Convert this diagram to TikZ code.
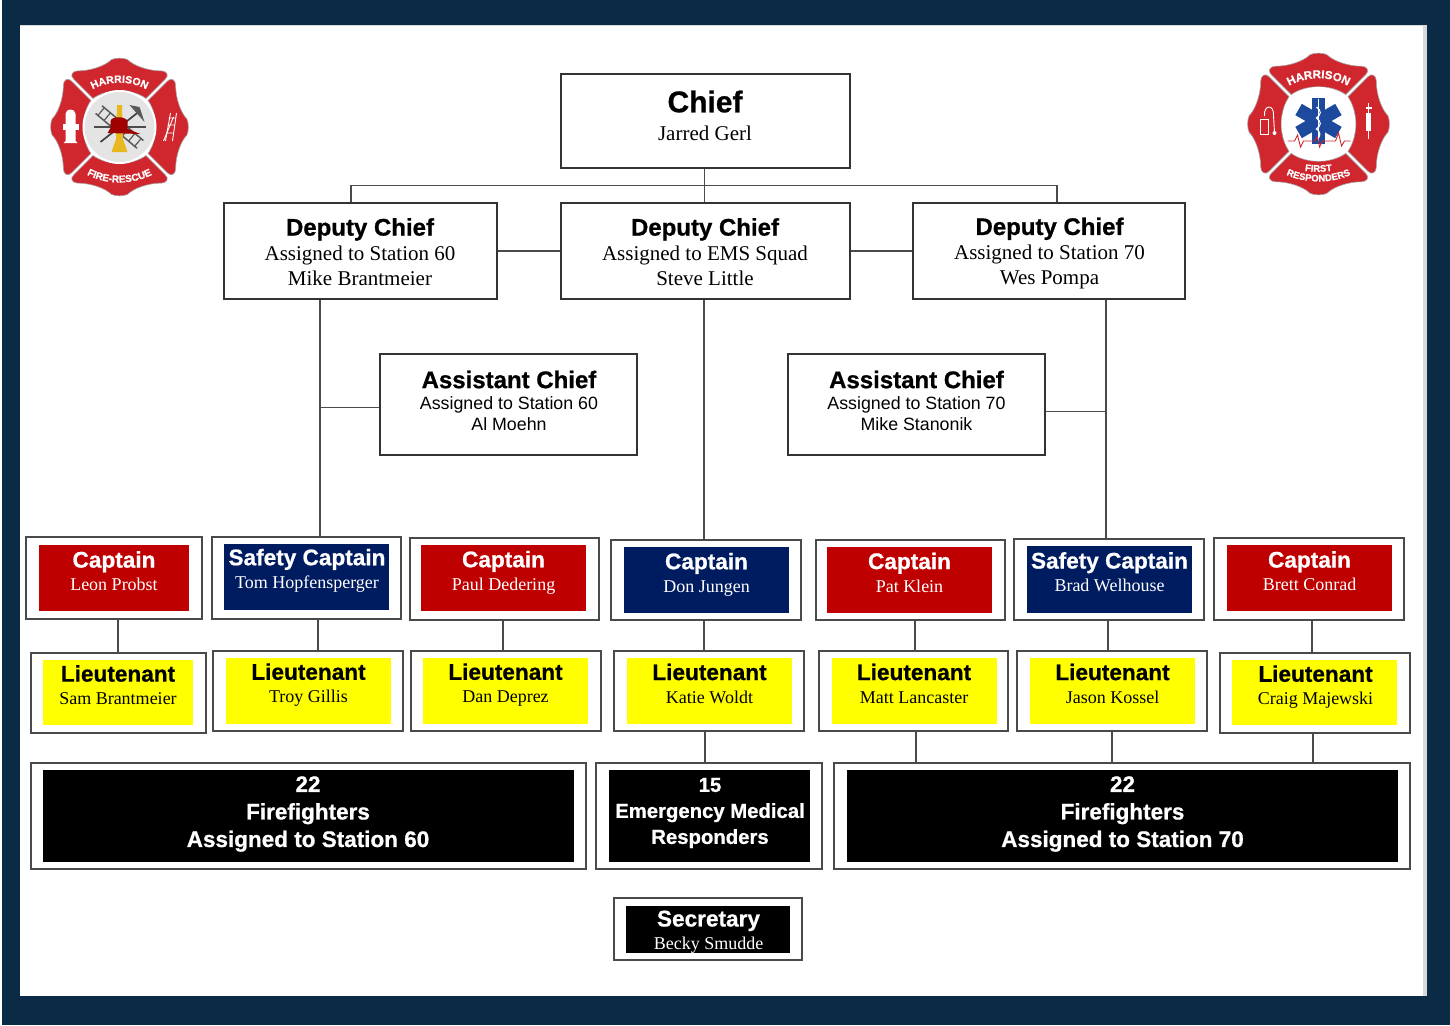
\documentclass[tikz,border=0pt]{standalone}
\usepackage{fontspec}
\setmainfont{Liberation Serif}
\newfontfamily\arialf[BoldFeatures={FakeBold=0.8}]{Liberation Sans}
\usetikzlibrary{decorations.text,calc}
\definecolor{frame}{HTML}{0B2A45}
\definecolor{capred}{HTML}{BE0000}
\definecolor{capblue}{HTML}{001C60}
\definecolor{ltyel}{HTML}{FFFF00}
\definecolor{logored}{HTML}{D0262E}
\definecolor{logogray}{HTML}{E4E4E4}
\definecolor{staryblue}{HTML}{1D4A9C}
\definecolor{brass}{HTML}{E8B820}
\definecolor{lineg}{HTML}{4A4A4A}
\newcommand\ttlA{\arialf\bfseries\fontsize{30}{32}\selectfont}
\newcommand\ttlB{\arialf\bfseries\fontsize{24}{25}\selectfont}
\newcommand\ttlC{\arialf\bfseries\fontsize{22.6}{24}\selectfont}
\newcommand\ttlD{\arialf\bfseries\fontsize{22.5}{27.5}\selectfont}
\newcommand\ttlE{\arialf\bfseries\fontsize{20.3}{26}\selectfont}
\newcommand\nmA{\rmfamily\mdseries\fontsize{21}{25}\selectfont}
\newcommand\nmB{\arialf\mdseries\fontsize{17.8}{20}\selectfont}
\newcommand\nmC{\rmfamily\mdseries\fontsize{18}{23}\selectfont}
\tikzset{
  x=1pt,y=-1pt,
  boxline/.style={draw=lineg,line width=1.4pt,fill=white},
  chiefline/.style={draw=black!80,line width=1.2pt,fill=white},
  redfill/.style={fill=capred},
  bluefill/.style={fill=capblue},
  yelfill/.style={fill=ltyel},
  blackfill/.style={fill=black},
  lspace/.style={font=\fontsize{10}{#1}\selectfont},
  wtxt/.style={text=white,align=center,inner sep=0pt,lspace=#1},
  ktxt/.style={text=black,align=center,inner sep=0pt,lspace=#1},
  link/.style={draw=lineg,line width=1.5pt},
  lobe/.style={fill=logored,draw=black!35,line width=.6pt},
}
% \bx[style]{name}{x1}{y1}{x2}{y2}
\newcommand\bx[6][]{%
  \pgfmathsetmacro\bxw{#5-#3}\pgfmathsetmacro\bxh{#6-#4}%
  \pgfmathsetmacro\bxx{(#3+#5)/2}\pgfmathsetmacro\bxy{(#4+#6)/2}%
  \node[inner sep=0pt,minimum width=\bxw pt,minimum height=\bxh pt,#1] (#2) at (\bxx,\bxy) {};%
}
\newcommand\malt{%
  \foreach \r in {0,90,180,270}{
    \begin{scope}[rotate=\r]
      \path[lobe] (-26,-28) -- (-45,-47) .. controls (-49,-51) and (-46,-55) .. (-41,-55)
        .. controls (-28,-55) and (-14,-60) .. (-8,-66) .. controls (-4,-68) and (4,-68) .. (8,-66)
        .. controls (14,-60) and (28,-55) .. (41,-55) .. controls (46,-55) and (49,-51) .. (45,-47)
        -- (26,-28) .. controls (12,-38) and (-12,-38) .. (-26,-28) -- cycle;
    \end{scope}
  }
}
\begin{document}
\begin{tikzpicture}
\useasboundingbox (0,0) rectangle (1450,1025);
\fill[frame] (0,0) rectangle (1450,1025);
\fill[white] (0,0) rectangle (2,1025);
\fill[white] (20,25) rectangle (1423,996);
\fill[black!15] (1423,25) rectangle (1427,996);
\fill[black!15] (20,25) rectangle (1427,26.5);

% ---------- left logo
\begin{scope}[shift={(119.5,127)}]
  \begin{scope}[scale=1.02]\malt\end{scope}
  \fill[white] (0,0) circle (37);
  \fill[logogray] (0,0) circle (35);
  % ladder
  \begin{scope}[rotate=50]
    \draw[black!65,line width=1.5pt] (-5,-27) -- (-5,27) (5,-27) -- (5,27);
    \foreach \q in {-24,-16,...,24}{\draw[black!65,line width=1.2pt] (-5,\q) -- (5,\q);}
  \end{scope}
  % tools
  \draw[black!70,line width=1.3pt] (-26,0) -- (26,0);
  \draw[black!75,line width=1.7pt] (-19,15) -- (19,-15);
  \fill[black!65] (10,-22) -- (20,-20) -- (25,-5) -- (17,-14) -- cycle;
  % nozzle
  \fill[brass] (-2.5,-22) -- (2.5,-22) -- (3.5,12) -- (8,25) -- (-8,25) -- (-3.5,12) -- cycle;
  % helmet
  \fill[capred!85!black] (-9,-6) .. controls (-8,-11) and (6,-11) .. (8,-6) -- (8,2) -- (21,7) -- (-12,6) -- (-9,1) -- cycle;
  % hydrant
  \begin{scope}[shift={(-49,0)}]
    \fill[white] (-5,-13) .. controls (-5,-19) and (5,-19) .. (5,-13) -- (5,14) -- (7,16) -- (-7,16) -- (-5,14) -- cycle;
    \fill[white] (-8,-3) rectangle (8,3);
  \end{scope}
  % side ladder
  \begin{scope}[shift={(50,0)}]
    \draw[white,line width=.9pt] (-4,14) -- (1,-14) (3,14) -- (7,-14);
    \draw[white,line width=.9pt] (-6,14) -- (4,-10) (-3,6) -- (4,6) (-2,-2) -- (5,-2) (-1,-9) -- (6,-9);
  \end{scope}
  \path[decorate,decoration={text along path,text align=center,
    text={|\arialf\bfseries\fontsize{10.5}{11}\selectfont\color{white}|HARRISON}}]
    (-46,-21) .. controls (-24,-52) and (24,-52) .. (46,-21);
  \path[decorate,decoration={text along path,text align=center,
    text={|\arialf\bfseries\fontsize{10}{10}\selectfont\color{white}|FIRE-RESCUE}}]
    (-48,36) .. controls (-24,62) and (24,62) .. (48,36);
\end{scope}

% ---------- right logo
\begin{scope}[shift={(1318.5,124)}]
  \begin{scope}[scale=1.05]\malt\end{scope}
  \fill[white] (0,0) circle (37);
  \begin{scope}[shift={(0,-3)}]
    \foreach \r in {0,60,120}{
      \fill[staryblue,rotate=\r] (-6.5,-23) rectangle (6.5,23);
    }
    \draw[white,line width=1.6pt] (0,-22) -- (0,22);
    \draw[white,line width=1.1pt] (-2,-14) .. controls (3,-10) and (3,-7) .. (-2,-3) .. controls (3,1) and (3,4) .. (-2,8) .. controls (2,11) and (2,14) .. (0,17);
  \end{scope}
  \draw[logored,line width=.9pt] (-31,17) -- (-24,17) -- (-21,11) -- (-18,23) -- (-15,17) -- (-4,17) -- (-1,13) -- (1,23) -- (4,17) -- (17,17) -- (20,9) -- (23,22) -- (26,17) -- (32,17);
  % stethoscope
  \begin{scope}[shift={(-50,-2)}]
    \draw[white,line width=.9pt] (-4,-6) .. controls (-5,-18) and (6,-18) .. (5,-6) -- (6,10);
    \draw[white,line width=.9pt] (-8,-3) rectangle (0,12);
    \fill[white] (6,11) circle (2);
  \end{scope}
  % syringe
  \begin{scope}[shift={(50,-2)}]
    \draw[white,line width=.6pt] (0,-19) -- (0,17);
    \fill[white] (-2.5,-9) rectangle (2.5,9);
    \fill[white] (-3,-15) rectangle (3,-13);
  \end{scope}
  \path[decorate,decoration={text along path,text align=center,
    text={|\arialf\bfseries\fontsize{11.5}{12}\selectfont\color{white}|HARRISON}}]
    (-49,-21) .. controls (-24,-54) and (24,-54) .. (49,-21);
  \path[decorate,decoration={text along path,text align=center,
    text={|\arialf\bfseries\fontsize{9.5}{10}\selectfont\color{white}|FIRST}}]
    (-25,44) .. controls (-12,49) and (12,49) .. (25,44);
  \path[decorate,decoration={text along path,text align=center,
    text={|\arialf\bfseries\fontsize{9.5}{10}\selectfont\color{white}|RESPONDERS}}]
    (-47,41) .. controls (-24,63) and (24,63) .. (47,41);
\end{scope}

% ---------- top boxes
\bx[chiefline]{chief}{561}{74}{850}{168}
\node[ktxt=28] (chieft) at (705,115.5) {\ttlA Chief\\\nmA Jarred Gerl};
\bx[chiefline]{dcone}{224}{203}{497}{299}
\node[ktxt=25] (dconet) at (360,252) {\ttlB Deputy Chief\\\nmA Assigned to Station 60\\\nmA Mike Brantmeier};
\bx[chiefline]{dctwo}{561}{203}{850}{299}
\node[ktxt=25] (dctwot) at (705,252) {\ttlB Deputy Chief\\\nmA Assigned to EMS Squad\\\nmA Steve Little};
\bx[chiefline]{dcthree}{913}{203}{1185}{299}
\node[ktxt=25] (dcthreet) at (1049.5,253.5) {\ttlB Deputy Chief\\\nmA Assigned to Station 70\\\nmA Wes Pompa};
\bx[chiefline]{acone}{380}{354}{637}{455}
\node[ktxt=21] (aconet) at (509,400.5) {\ttlB Assistant Chief\\\nmB Assigned to Station 60\\\nmB Al Moehn};
\bx[chiefline]{actwo}{788}{354}{1045}{455}
\node[ktxt=21] (actwot) at (916.5,400.5) {\ttlB Assistant Chief\\\nmB Assigned to Station 70\\\nmB Mike Stanonik};

% ---------- captains
\bx[boxline]{capa}{26}{537}{202}{619}     \bx[redfill]{capai}{39}{545}{189}{611}
\node[wtxt=23] (capat) at (114,571) {\ttlC Captain\\\nmC Leon Probst};
\bx[boxline]{capb}{212}{537}{401}{619}    \bx[bluefill]{capbi}{224}{544}{389}{610}
\node[wtxt=23] (capbt) at (307,570.5) {\ttlC Safety Captain\\\nmC Tom Hopfensperger};
\bx[boxline]{capc}{410}{538}{599}{620}    \bx[redfill]{capci}{421}{545}{586}{611}
\node[wtxt=23] (capct) at (503.5,572.5) {\ttlC Captain\\\nmC Paul Dedering};
\bx[boxline]{capd}{611}{540}{801}{620}    \bx[bluefill]{capdi}{624}{547}{789}{613}
\node[wtxt=23] (capdt) at (706.5,574.5) {\ttlC Captain\\\nmC Don Jungen};
\bx[boxline]{cape}{816}{540}{1005}{620}   \bx[redfill]{capei}{827}{547}{992}{613}
\node[wtxt=23] (capet) at (909.5,572.5) {\ttlC Captain\\\nmC Pat Klein};
\bx[boxline]{capf}{1014}{539}{1204}{620}  \bx[bluefill]{capfi}{1027}{546}{1192}{613}
\node[wtxt=23] (capft) at (1109.5,572) {\ttlC Safety Captain\\\nmC Brad Welhouse};
\bx[boxline]{capg}{1214}{538}{1404}{620}  \bx[redfill]{capgi}{1227}{545}{1392}{611}
\node[wtxt=23] (capgt) at (1309.5,571) {\ttlC Captain\\\nmC Brett Conrad};

% ---------- lieutenants
\bx[boxline]{lta}{31}{653}{206}{733}      \bx[yelfill]{ltai}{43}{660}{193}{725}
\node[ktxt=23] (ltat) at (118,685) {\ttlC Lieutenant\\\nmC Sam Brantmeier};
\bx[boxline]{ltb}{213}{651}{403}{731}     \bx[yelfill]{ltbi}{226}{658}{391}{724}
\node[ktxt=23] (ltbt) at (308.5,685) {\ttlC Lieutenant\\\nmC Troy Gillis};
\bx[boxline]{ltc}{411}{651}{601}{731}     \bx[yelfill]{ltci}{423}{658}{588}{724}
\node[ktxt=23] (ltct) at (505.5,685) {\ttlC Lieutenant\\\nmC Dan Deprez};
\bx[boxline]{ltd}{614}{651}{804}{731}     \bx[yelfill]{ltdi}{627}{658}{792}{724}
\node[ktxt=23] (ltdt) at (709.5,683.5) {\ttlC Lieutenant\\\nmC Katie Woldt};
\bx[boxline]{lte}{819}{651}{1008}{731}    \bx[yelfill]{ltei}{832}{658}{997}{724}
\node[ktxt=23] (ltet) at (914,683.5) {\ttlC Lieutenant\\\nmC Matt Lancaster};
\bx[boxline]{ltf}{1017}{651}{1207}{731}   \bx[yelfill]{ltfi}{1030}{658}{1195}{724}
\node[ktxt=23] (ltft) at (1112.5,683.5) {\ttlC Lieutenant\\\nmC Jason Kossel};
\bx[boxline]{ltg}{1220}{653}{1410}{733}   \bx[yelfill]{ltgi}{1232}{660}{1397}{725}
\node[ktxt=23] (ltgt) at (1315.5,687) {\ttlC Lieutenant\\\nmC Craig Majewski};

% ---------- black boxes
\bx[boxline]{ffa}{31}{763}{586}{869}      \bx[blackfill]{ffai}{43}{770}{574}{862}
\node[wtxt=27.5] (ffat) at (308,814) {\ttlD 22\\\ttlD Firefighters\\\ttlD Assigned to Station 60};
\bx[boxline]{ems}{596}{763}{822}{869}     \bx[blackfill]{emsi}{609}{770}{810}{862}
\node[wtxt=26] (emst) at (710,813) {\ttlE 15\\\ttlE Emergency Medical\\\ttlE Responders};
\bx[boxline]{ffb}{834}{763}{1410}{869}    \bx[blackfill]{ffbi}{847}{770}{1398}{862}
\node[wtxt=27.5] (ffbt) at (1122.5,814) {\ttlD 22\\\ttlD Firefighters\\\ttlD Assigned to Station 70};
\bx[boxline]{sec}{614}{898}{802}{960}     \bx[blackfill]{seci}{626}{906}{790}{953}
\node[wtxt=23] (sect) at (708.5,932) {\ttlC Secretary\\\nmC Becky Smudde};

% ---------- connectors
\draw[link] ([xshift=-1pt]chief.south) -- ([xshift=-1pt]dctwo.north);
\coordinate (busl) at ($(dcone.north)+(-9.5,-17)$);
\coordinate (busr) at ($(dcthree.north)+(8,-17)$);
\draw[link] (dcone.north -| busl) -- (busl) -- (busr) -- (dcthree.north -| busr);
\draw[link] (dcone.east) -- (dctwo.west);
\draw[link] (dctwo.east) -- (dcthree.west);
\draw[link] ([xshift=-40.5pt]dcone.south) -- ([xshift=13.5pt]capb.north);
\coordinate (brl) at ($(dcone.south)+(-40.5,108)$);
\draw[link] (brl) -- (acone.west |- brl);
\draw[link] ([xshift=-1.5pt]dctwo.south) -- ([xshift=-2pt]capd.north);
\draw[link] ([xshift=57pt]dcthree.south) -- ([xshift=-3pt]capf.north);
\coordinate (brr) at ($(dcthree.south)+(57,112)$);
\draw[link] (brr) -- (actwo.east |- brr);
\draw[link] ([xshift=4pt]capa.south) -- ([xshift=-.5pt]lta.north);
\draw[link] ([xshift=11.5pt]capb.south) -- ([xshift=10pt]ltb.north);
\draw[link] ([xshift=-1.5pt]capc.south) -- ([xshift=-3pt]ltc.north);
\draw[link] ([xshift=-2pt]capd.south) -- ([xshift=-5pt]ltd.north);
\draw[link] ([xshift=4.5pt]cape.south) -- ([xshift=1.5pt]lte.north);
\draw[link] ([xshift=-1pt]capf.south) -- ([xshift=-4pt]ltf.north);
\draw[link] ([xshift=3pt]capg.south) -- ([xshift=-3pt]ltg.north);
\draw[link] ([xshift=-4pt]ltd.south) -- ([xshift=-4pt]ems.north);
\draw[link] ([xshift=2.5pt]lte.south) -- ([xshift=-206pt]ffb.north);
\draw[link] ([xshift=0pt]ltf.south) -- ([xshift=-10pt]ffb.north);
\draw[link] ([xshift=-2pt]ltg.south) -- ([xshift=191pt]ffb.north);
\end{tikzpicture}
\end{document}
